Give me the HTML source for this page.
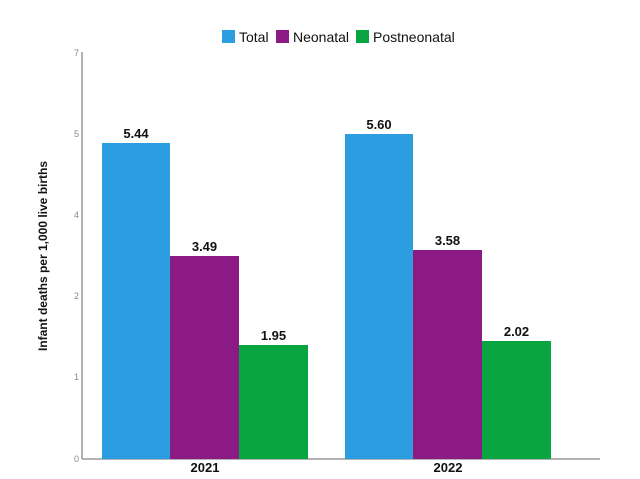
<!DOCTYPE html>
<html><head><meta charset="utf-8"><style>
body{margin:0;background:#fff}
svg{display:block}
text{font-family:"Liberation Sans",sans-serif}
</style></head><body>
<svg width="640" height="479" viewBox="0 0 640 479">
<rect width="640" height="479" fill="#fff"/>
<!-- legend -->
<rect x="222" y="30" width="13" height="13" fill="#2b9de0"/>
<text x="239" y="42" font-size="14" fill="#111">Total</text>
<rect x="276" y="30" width="13" height="13" fill="#8b1a84"/>
<text x="293" y="42" font-size="14" fill="#111">Neonatal</text>
<rect x="356" y="30" width="13" height="13" fill="#08a540"/>
<text x="373" y="42" font-size="14" fill="#111">Postneonatal</text>
<!-- axes -->
<line x1="82" y1="52" x2="82" y2="459" stroke="#999" stroke-width="1.5"/>
<line x1="82" y1="459" x2="600" y2="459" stroke="#999" stroke-width="1.5"/>
<g font-size="9" fill="#888" text-anchor="end">
<text x="79" y="56">7</text>
<text x="79" y="137">5</text>
<text x="79" y="218">4</text>
<text x="79" y="299">2</text>
<text x="79" y="380">1</text>
<text x="79" y="462">0</text>
</g>
<text transform="translate(47,256) rotate(-90)" font-size="12" font-weight="bold" fill="#111" text-anchor="middle">Infant deaths per 1,000 live births</text>
<!-- bars -->
<rect x="102" y="143" width="68" height="316" fill="#2b9de0"/>
<rect x="170" y="256" width="69" height="203" fill="#8b1a84"/>
<rect x="239" y="345" width="69" height="114" fill="#08a540"/>
<rect x="345" y="134" width="68" height="325" fill="#2b9de0"/>
<rect x="413" y="250" width="69" height="209" fill="#8b1a84"/>
<rect x="482" y="341" width="69" height="118" fill="#08a540"/>
<g font-size="13" font-weight="bold" fill="#111" text-anchor="middle">
<text x="136" y="138">5.44</text>
<text x="204.5" y="251">3.49</text>
<text x="273.5" y="340">1.95</text>
<text x="379" y="129">5.60</text>
<text x="447.5" y="245">3.58</text>
<text x="516.5" y="336">2.02</text>
<text x="205" y="472">2021</text>
<text x="448" y="472">2022</text>
</g>
</svg>
</body></html>
